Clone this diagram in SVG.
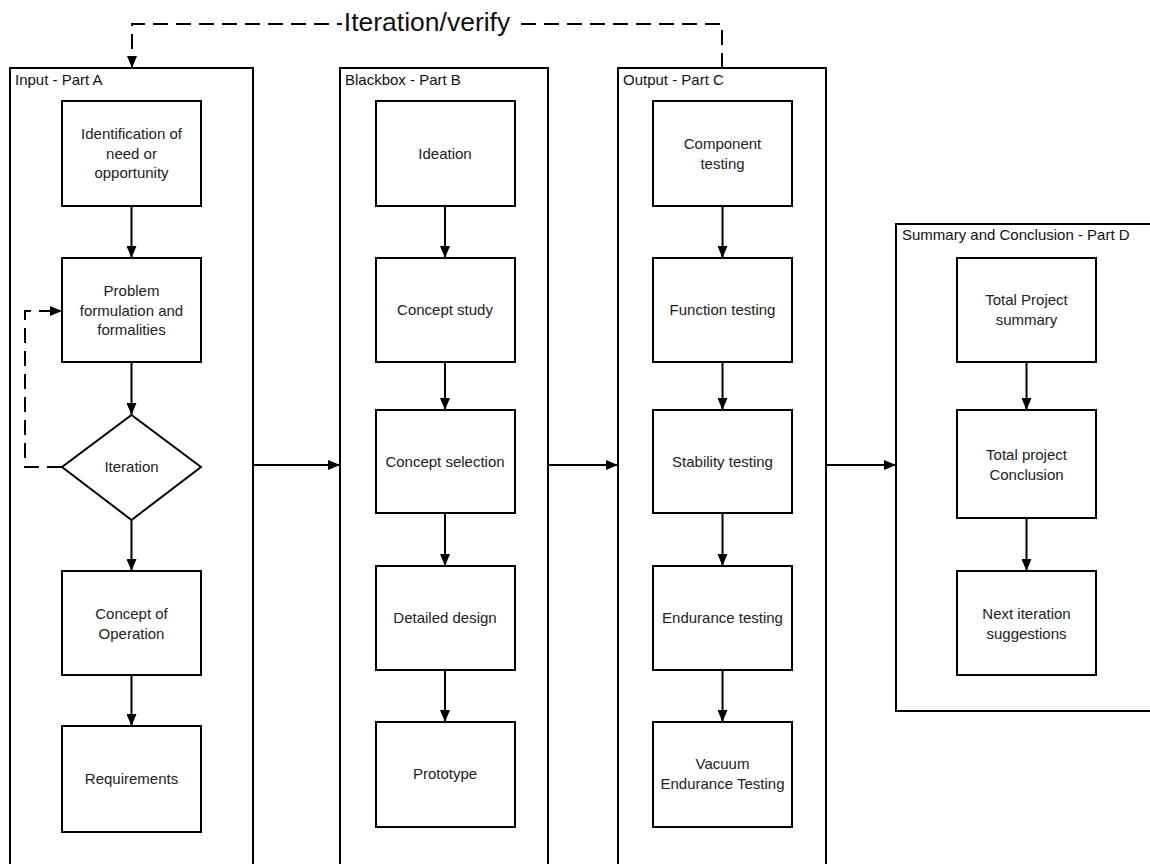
<svg xmlns="http://www.w3.org/2000/svg" width="1150" height="864" viewBox="0 0 1150 864">
<defs>
<marker id="ah" markerUnits="userSpaceOnUse" markerWidth="12" markerHeight="10" refX="12" refY="5" orient="auto"><path d="M0,0 L12,5 L0,10 z" fill="#000"/></marker>
<style>
.c{fill:#fff;stroke:#000;stroke-width:2}
.n{fill:#fff;stroke:#000;stroke-width:2}
.t{font-family:"Liberation Sans",Arial,sans-serif;font-size:15px;fill:#222;text-anchor:middle}
.ct{font-family:"Liberation Sans",Arial,sans-serif;font-size:15px;fill:#111}
.e{fill:none;stroke:#000;stroke-width:2}
.d{fill:none;stroke:#000;stroke-width:2;stroke-dasharray:15 8}
</style>
</defs>
<rect width="1150" height="864" fill="#fff"/>
<g id="containers">
<g id="partA"><rect class="c" x="10" y="68" width="243" height="810"/><text class="ct" x="15" y="85">Input - Part A</text></g>
<g id="partB"><rect class="c" x="340" y="68" width="208" height="810"/><text class="ct" x="345" y="85">Blackbox - Part B</text></g>
<g id="partC"><rect class="c" x="618" y="68" width="208" height="810"/><text class="ct" x="623" y="85">Output - Part C</text></g>
<g id="partD"><rect class="c" x="896" y="224" width="270" height="487"/><text class="ct" x="902" y="240">Summary and Conclusion - Part D</text></g>
</g>
<g id="connectors">
<line class="e" x1="131.5" y1="206" x2="131.5" y2="258" marker-end="url(#ah)"/>
<line class="e" x1="131.5" y1="362" x2="131.5" y2="415" marker-end="url(#ah)"/>
<line class="e" x1="131.5" y1="520" x2="131.5" y2="571" marker-end="url(#ah)"/>
<line class="e" x1="131.5" y1="675" x2="131.5" y2="726" marker-end="url(#ah)"/>
<line class="e" x1="445" y1="206" x2="445" y2="258" marker-end="url(#ah)"/>
<line class="e" x1="445" y1="362" x2="445" y2="410" marker-end="url(#ah)"/>
<line class="e" x1="445" y1="513" x2="445" y2="566" marker-end="url(#ah)"/>
<line class="e" x1="445" y1="670" x2="445" y2="722" marker-end="url(#ah)"/>
<line class="e" x1="722.5" y1="206" x2="722.5" y2="258" marker-end="url(#ah)"/>
<line class="e" x1="722.5" y1="362" x2="722.5" y2="410" marker-end="url(#ah)"/>
<line class="e" x1="722.5" y1="513" x2="722.5" y2="566" marker-end="url(#ah)"/>
<line class="e" x1="722.5" y1="670" x2="722.5" y2="722" marker-end="url(#ah)"/>
<line class="e" x1="1026.5" y1="362" x2="1026.5" y2="410" marker-end="url(#ah)"/>
<line class="e" x1="1026.5" y1="518" x2="1026.5" y2="571" marker-end="url(#ah)"/>
<line class="e" x1="253" y1="465" x2="340" y2="465" marker-end="url(#ah)"/>
<line class="e" x1="548" y1="465" x2="618" y2="465" marker-end="url(#ah)"/>
<line class="e" x1="826" y1="465" x2="896" y2="465" marker-end="url(#ah)"/>
<path class="d" d="M62,467 H25 V311 H62" marker-end="url(#ah)"/>
<path class="d" d="M722,68 V24 H132 V68" marker-end="url(#ah)"/>
<rect x="342" y="8" width="172" height="30" fill="#fff"/>
<text x="427" y="31" font-family="Liberation Sans, Arial, sans-serif" font-size="26.5" fill="#111" text-anchor="middle">Iteration/verify</text>
</g>
<g id="a1"><rect class="n" x="62" y="101" width="139" height="105"/><text class="t" x="131.5" y="139">Identification of</text><text class="t" x="131.5" y="158.5">need or</text><text class="t" x="131.5" y="178">opportunity</text></g>
<g id="a2"><rect class="n" x="62" y="258" width="139" height="104"/><text class="t" x="131.5" y="296">Problem</text><text class="t" x="131.5" y="315.5">formulation and</text><text class="t" x="131.5" y="335">formalities</text></g>
<g id="a3"><polygon class="n" points="131.5,415 201,467 131.5,520 62,467"/><text class="t" x="131.5" y="472">Iteration</text></g>
<g id="a4"><rect class="n" x="62" y="571" width="139" height="104"/><text class="t" x="131.5" y="619">Concept of</text><text class="t" x="131.5" y="638.5">Operation</text></g>
<g id="a5"><rect class="n" x="62" y="726" width="139" height="106"/><text class="t" x="131.5" y="784">Requirements</text></g>
<g id="b1"><rect class="n" x="376" y="101" width="139" height="105"/><text class="t" x="445" y="159">Ideation</text></g>
<g id="b2"><rect class="n" x="376" y="258" width="139" height="104"/><text class="t" x="445" y="315">Concept study</text></g>
<g id="b3"><rect class="n" x="376" y="410" width="139" height="103"/><text class="t" x="445" y="467">Concept selection</text></g>
<g id="b4"><rect class="n" x="376" y="566" width="139" height="104"/><text class="t" x="445" y="623">Detailed design</text></g>
<g id="b5"><rect class="n" x="376" y="722" width="139" height="105"/><text class="t" x="445" y="779">Prototype</text></g>
<g id="c1"><rect class="n" x="653" y="101" width="139" height="105"/><text class="t" x="722.5" y="149">Component</text><text class="t" x="722.5" y="168.5">testing</text></g>
<g id="c2"><rect class="n" x="653" y="258" width="139" height="104"/><text class="t" x="722.5" y="315">Function testing</text></g>
<g id="c3"><rect class="n" x="653" y="410" width="139" height="103"/><text class="t" x="722.5" y="467">Stability testing</text></g>
<g id="c4"><rect class="n" x="653" y="566" width="139" height="104"/><text class="t" x="722.5" y="623">Endurance testing</text></g>
<g id="c5"><rect class="n" x="653" y="722" width="139" height="105"/><text class="t" x="722.5" y="769">Vacuum</text><text class="t" x="722.5" y="788.5">Endurance Testing</text></g>
<g id="d1"><rect class="n" x="957" y="258" width="139" height="104"/><text class="t" x="1026.5" y="305">Total Project</text><text class="t" x="1026.5" y="324.5">summary</text></g>
<g id="d2"><rect class="n" x="957" y="410" width="139" height="108"/><text class="t" x="1026.5" y="460">Total project</text><text class="t" x="1026.5" y="479.5">Conclusion</text></g>
<g id="d3"><rect class="n" x="957" y="571" width="139" height="104"/><text class="t" x="1026.5" y="619">Next iteration</text><text class="t" x="1026.5" y="638.5">suggestions</text></g>
</svg>
